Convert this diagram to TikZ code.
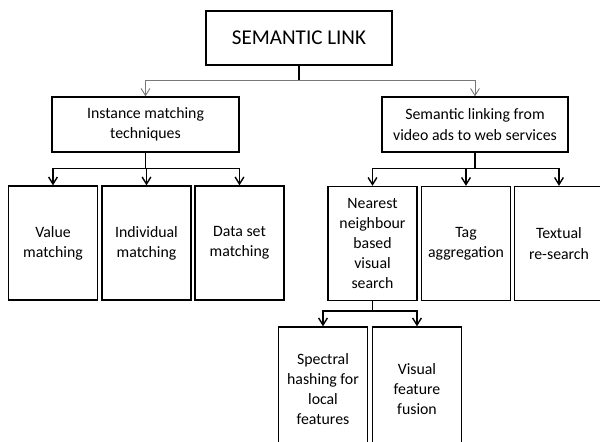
\documentclass[tikz,border=0pt]{standalone}
\usepackage{fontspec}
\setmainfont{Carlito}
\usetikzlibrary{arrows.meta}
\definecolor{linkgray}{RGB}{120,120,120}

\begin{document}
\begin{tikzpicture}[
  x=0.02cm, y=-0.02cm,
  block/.style={rectangle, draw, line width=0.8pt, align=center, inner sep=0pt, font=\fontsize{9}{11.5}\selectfont},
  tall/.style={block, minimum width=1.78cm, minimum height=2.28cm},
  arrow/.style={-{Straight Barb[length=4pt,width=5pt]}, line width=0.8pt},
  thinarrow/.style={-{Straight Barb[length=4pt,width=5pt]}, linkgray, line width=0.5pt}
]
\clip (0,0) rectangle (600,441);
\fill[white] (0,0) rectangle (600,441);

\node[block, minimum width=3.72cm, minimum height=1.08cm, font=\fontsize{12}{14}\selectfont] (title) at (299,38) {SEMANTIC LINK};
\node[block, minimum width=3.74cm, minimum height=1.1cm] (inst) at (145.5,124.5) {Instance matching\\techniques};
\node[block, minimum width=3.72cm, minimum height=1.1cm] (sem) at (475,124.5) {Semantic linking from\\video ads to web services};

\node[tall] (value) at (53,243) {Value\\matching};
\node[tall] (indiv) at (146.5,243) {Individual\\matching};
\node[tall] (dataset) at (239.5,243) {Data set\\matching};

\node[tall] (near) at (372.5,243.5) {Nearest\\neighbour\\based\\visual\\search};
\node[tall] (tag) at (466,243.5) {Tag\\aggregation};
\node[tall] (textual) at (559,243.5) {Textual\\re-search};

\node[tall, minimum height=2.48cm] (spectral) at (323,389) {Spectral\\hashing for\\local\\features};
\node[tall, minimum height=2.48cm] (visual) at (417,389) {Visual\\feature\\fusion};

% top level
\draw[line width=0.8pt] (title.south) -- ++(0,15) coordinate (top);
\draw[thinarrow] (top) -| (inst);
\draw[thinarrow] (top) -| (sem);

% instance matching
\draw[line width=0.8pt] (inst.south) -- ++(0,16) coordinate (j1);
\draw[arrow] (j1) -| (value);
\draw[arrow] (j1) -| (indiv);
\draw[arrow] (j1) -| (dataset);

% semantic linking
\draw[line width=0.8pt] (sem.south) -- ++(0,16) coordinate (j2);
\draw[arrow] (j2) -| (near);
\draw[arrow] (j2) -| (tag);
\draw[arrow] (j2) -| (textual);

% nearest neighbour
\draw[line width=0.8pt] (near.south) -- ++(0,10) coordinate (j3);
\draw[arrow] (j3) -| (spectral);
\draw[arrow] (j3) -| (visual);
\end{tikzpicture}
\end{document}
